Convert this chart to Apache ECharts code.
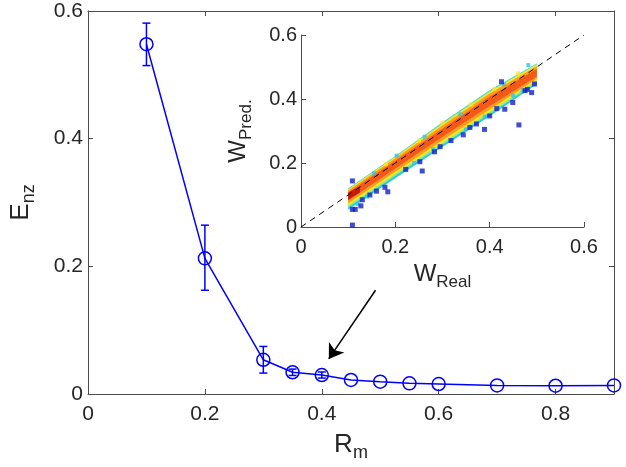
<!DOCTYPE html>
<html><head><meta charset="utf-8">
<script src="https://cdn.jsdelivr.net/npm/echarts@6/dist/echarts.min.js"></script>
<style>html,body{margin:0;padding:0;background:#fff}#c{width:626px;height:467px}</style>
</head><body><div id="c"></div>
<script>
// ---- main plot data ----
const rm      = [0.1, 0.2, 0.3, 0.35, 0.4, 0.45, 0.5, 0.55, 0.6, 0.7, 0.8, 0.9];
const enz     = [0.548, 0.2125, 0.0536, 0.0340, 0.0297, 0.0220, 0.0193, 0.0167, 0.0156, 0.0135, 0.0130, 0.0135];
const enzLow  = [0.5145, 0.1625, 0.0328, 0.0290, 0.0250, null, null, null, null, null, null, null];
const enzHigh = [0.5810, 0.2645, 0.0745, 0.0390, 0.0345, null, null, null, null, null, null, null];
const mainXTicks = [0, 0.2, 0.4, 0.6, 0.8];
const mainYTicks = [0, 0.2, 0.4, 0.6];
// arrow annotation (data coordinates of main axes)
const arrowFrom = [0.492, 0.1625];
const arrowTo   = [0.412, 0.055];

// ---- inset data ----
const insetTicks = [0, 0.2, 0.4, 0.6];
const identityLine = [[0, 0], [0.6, 0.6]];
const bandX = [0.1, 0.2, 0.3, 0.4, 0.5];
const bandCyanLow    = [0.054, 0.152, 0.250, 0.346, 0.446];
const bandCyanHigh   = [0.120, 0.222, 0.327, 0.427, 0.511];
const bandGreenLow   = [0.061, 0.160, 0.257, 0.353, 0.452];
const bandGreenHigh  = [0.119, 0.221, 0.325, 0.425, 0.510];
const bandYellowLow  = [0.067, 0.166, 0.263, 0.359, 0.457];
const bandYellowHigh = [0.117, 0.219, 0.322, 0.422, 0.507];
const bandOrangeLow  = [0.074, 0.173, 0.271, 0.367, 0.463];
const bandOrangeHigh = [0.114, 0.215, 0.317, 0.417, 0.502];
const bandRedLow     = [0.083, 0.183, 0.282, 0.378, 0.470];
const bandRedHigh    = [0.108, 0.207, 0.307, 0.407, 0.494];
const coreX    = [0.1, 0.125];
const coreLow  = [0.085, 0.108];
const coreHigh = [0.108, 0.127];
const outliersBlue = [
  [0.109, 0.144], [0.109, 0.006], [0.109, 0.055], [0.115, 0.055], [0.127, 0.066],
  [0.146, 0.100], [0.178, 0.124], [0.184, 0.110], [0.257, 0.175], [0.252, 0.204],
  [0.283, 0.235], [0.295, 0.251], [0.344, 0.288], [0.358, 0.311], [0.389, 0.305],
  [0.400, 0.347], [0.425, 0.454], [0.432, 0.368], [0.449, 0.389], [0.462, 0.319],
  [0.475, 0.426], [0.489, 0.420], [0.495, 0.447], [0.160, 0.112], [0.222, 0.180],
  [0.318, 0.270], [0.372, 0.322], [0.415, 0.370], [0.480, 0.430], [0.130, 0.085]
];
const outliersCyan = [
  [0.203, 0.223], [0.482, 0.506], [0.338, 0.352], [0.262, 0.282], [0.155, 0.168],
  [0.43, 0.446], [0.12, 0.072], [0.24, 0.200], [0.35, 0.305], [0.45, 0.41],
  [0.14, 0.095], [0.28, 0.243], [0.39, 0.345], [0.47, 0.427]
];
const speckYellow = [
  [0.18, 0.196], [0.30, 0.326], [0.41, 0.432], [0.25, 0.27], [0.46, 0.48], [0.36, 0.383]
];

const FONT = 'Liberation Sans, Arial, Helvetica, sans-serif';
const AXC = '#4d4d4d';
const TXT = '#262626';

function bandPolygon(xs, lo, hi, color) {
  return {
    type: 'custom', xAxisIndex: 2, yAxisIndex: 2, silent: true, z: 2,
    data: xs.map((x, i) => [x, lo[i], hi[i]]),
    renderItem: function (params, api) {
      if (params.dataIndex !== 0) return null;
      const pts = [];
      for (let i = 0; i < xs.length; i++) pts.push(api.coord([xs[i], hi[i]]));
      for (let i = xs.length - 1; i >= 0; i--) pts.push(api.coord([xs[i], lo[i]]));
      return { type: 'polygon', shape: { points: pts }, style: { fill: color } };
    }
  };
}

function axisCommon(extra) {
  return Object.assign({
    type: 'value',
    axisLine: { show: true, onZero: false, lineStyle: { color: AXC, width: 1 } },
    axisTick: { show: true, inside: true, length: 5, lineStyle: { color: AXC } },
    splitLine: { show: false },
    axisLabel: { color: TXT, fontSize: 20, fontFamily: FONT },
  }, extra);
}
function fmt(list) {
  return v => list.indexOf(+v.toFixed(2)) >= 0 ? String(+v.toFixed(2)) : '';
}

const chart = echarts.init(document.getElementById('c'), null, { renderer: 'canvas' });
chart.setOption({
  animation: false,
  backgroundColor: '#fff',
  grid: [
    { left: 87, right: 12, top: 11, bottom: 72 },
    { left: 301, right: 42, top: 35, bottom: 240 }
  ],
  xAxis: [
    axisCommon({ gridIndex: 0, min: 0, max: 0.9, interval: 0.2, position: 'bottom',
      axisLabel: { color: TXT, fontSize: 21, fontFamily: FONT, margin: 10, formatter: fmt(mainXTicks) },
      name: '{m|R}{s|m}', nameLocation: 'middle', nameGap: 34,
      nameTextStyle: { rich: {
        m: { fontSize: 26, fontFamily: FONT, color: TXT },
        s: { fontSize: 18, fontFamily: FONT, color: TXT, padding: [16, 0, 0, 0] } } } }),
    axisCommon({ gridIndex: 0, min: 0, max: 0.9, interval: 0.2, position: 'top', axisLabel: { show: false } }),
    axisCommon({ gridIndex: 1, min: 0, max: 0.6, interval: 0.2, position: 'bottom',
      axisLabel: { color: TXT, fontSize: 20, fontFamily: FONT, margin: 10, formatter: fmt(insetTicks) },
      name: '{m|W}{s|Real}', nameLocation: 'middle', nameGap: 31,
      nameTextStyle: { rich: {
        m: { fontSize: 24, fontFamily: FONT, color: TXT },
        s: { fontSize: 17, fontFamily: FONT, color: TXT, padding: [16, 0, 0, 0] } } } })
  ],
  yAxis: [
    axisCommon({ gridIndex: 0, min: 0, max: 0.6, interval: 0.2, position: 'left',
      axisLabel: { color: TXT, fontSize: 21, fontFamily: FONT, margin: 5, formatter: fmt(mainYTicks) },
      name: '{m|E}{s|nz}', nameLocation: 'middle', nameGap: 50, nameRotate: 90,
      nameTextStyle: { rich: {
        m: { fontSize: 26, fontFamily: FONT, color: TXT },
        s: { fontSize: 18, fontFamily: FONT, color: TXT, padding: [16, 0, 0, 0] } } } }),
    axisCommon({ gridIndex: 0, min: 0, max: 0.6, interval: 0.2, position: 'right', axisLabel: { show: false } }),
    axisCommon({ gridIndex: 1, min: 0, max: 0.6, interval: 0.2, position: 'left',
      axisLabel: { color: TXT, fontSize: 20, fontFamily: FONT, margin: 4, formatter: fmt(insetTicks) },
      name: '{m|W}{s|Pred.}', nameLocation: 'middle', nameGap: 46, nameRotate: 90,
      nameTextStyle: { rich: {
        m: { fontSize: 24, fontFamily: FONT, color: TXT },
        s: { fontSize: 17, fontFamily: FONT, color: TXT, padding: [16, 0, 0, 0] } } } })
  ],
  series: [
    {
      type: 'custom', xAxisIndex: 0, yAxisIndex: 0, silent: true, z: 3,
      data: rm.map((x, i) => [x, enzLow[i], enzHigh[i]]).filter(d => d[1] !== null),
      renderItem: function (params, api) {
        const top = api.coord([api.value(0), api.value(2)]);
        const bot = api.coord([api.value(0), api.value(1)]);
        const w = 4;
        const st = { stroke: '#0000ff', lineWidth: 1.5 };
        return { type: 'group', children: [
          { type: 'line', shape: { x1: top[0], y1: top[1], x2: bot[0], y2: bot[1] }, style: st },
          { type: 'line', shape: { x1: top[0] - w, y1: top[1], x2: top[0] + w, y2: top[1] }, style: st },
          { type: 'line', shape: { x1: bot[0] - w, y1: bot[1], x2: bot[0] + w, y2: bot[1] }, style: st }
        ] };
      }
    },
    {
      type: 'line', xAxisIndex: 0, yAxisIndex: 0, z: 4,
      data: rm.map((x, i) => [x, enz[i]]),
      symbol: 'circle', symbolSize: 13,
      lineStyle: { color: '#0000ff', width: 1.5 },
      itemStyle: { color: 'rgba(0,0,0,0)', borderColor: '#0000ff', borderWidth: 1.5 },
      markLine: {
        silent: true, animation: false,
        symbol: ['none', 'arrow'], symbolSize: 14,
        lineStyle: { color: '#000', width: 1.5, type: 'solid' },
        label: { show: false },
        data: [[{ coord: arrowFrom }, { coord: arrowTo }]]
      }
    },
    bandPolygon(bandX, bandCyanLow, bandCyanHigh, '#2cc6ee'),
    bandPolygon(bandX, bandGreenLow, bandGreenHigh, '#8cf07a'),
    bandPolygon(bandX, bandYellowLow, bandYellowHigh, '#fde52c'),
    bandPolygon(bandX, bandOrangeLow, bandOrangeHigh, '#ff9d1c'),
    bandPolygon(bandX, bandRedLow, bandRedHigh, '#f4581a'),
    bandPolygon(coreX, coreLow, coreHigh, '#c41a0a'),
    {
      type: 'scatter', xAxisIndex: 2, yAxisIndex: 2, z: 2, silent: true,
      symbol: 'rect', symbolSize: 4, itemStyle: { color: '#fde52c' },
      data: speckYellow
    },
    {
      type: 'scatter', xAxisIndex: 2, yAxisIndex: 2, z: 2, silent: true,
      symbol: 'rect', symbolSize: 4, itemStyle: { color: '#2cc6ee' },
      data: outliersCyan
    },
    {
      type: 'scatter', xAxisIndex: 2, yAxisIndex: 2, z: 2, silent: true,
      symbol: 'rect', symbolSize: 5, itemStyle: { color: '#1020c8' },
      data: outliersBlue
    },
    {
      type: 'line', xAxisIndex: 2, yAxisIndex: 2, z: 3, silent: true,
      data: identityLine, symbol: 'none',
      lineStyle: { color: '#000', width: 1, type: [6, 5] }
    }
  ]
});
</script>
</body></html>
